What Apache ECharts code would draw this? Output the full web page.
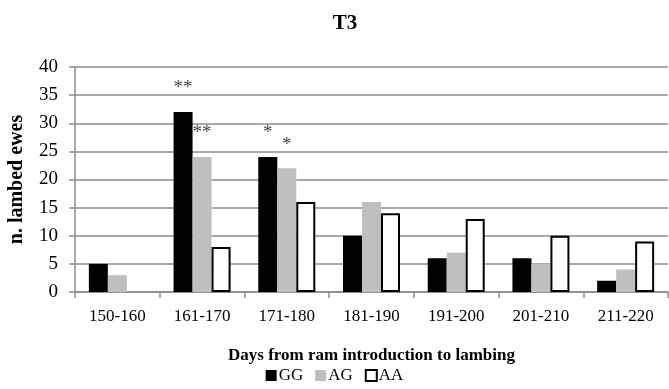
<!DOCTYPE html>
<html>
<head>
<meta charset="utf-8">
<script src="https://cdn.jsdelivr.net/npm/echarts@6/dist/echarts.min.js"></script>
<style>
  html, body { margin: 0; padding: 0; background: #fff; }
  #chart { width: 669px; height: 389px; }
</style>
</head>
<body>
<div id="chart"></div>
<script>
const categories = ["150-160", "161-170", "171-180", "181-190", "191-200", "201-210", "211-220"];
const ggValues = [5, 32, 24, 10, 6, 6, 2];
const agValues = [3, 24, 22, 16, 7, 5, 4];
const aaValues = [0, 8, 16, 14, 13, 10, 9];
// significance marks shown above bars
const ggMarks = ["", "**", "*", "", "", "", ""];
const agMarks = ["", "**", "*", "", "", "", ""];

const font = "Liberation Serif";
const chart = echarts.init(document.getElementById("chart"));

function withMarks(values, marks) {
  return values.map((v, i) => ({
    value: v,
    label: { show: marks[i] !== "", formatter: marks[i] }
  }));
}

const markLabel = {
  position: "top",
  distance: 14,
  color: "#444",
  fontFamily: font,
  fontSize: 19
};

chart.setOption({
  animation: false,
  title: {
    text: "T3",
    left: 340,
    top: 8,
    textAlign: "center",
    textStyle: { fontFamily: font, fontWeight: "bold", fontSize: 21, color: "#000" }
  },
  legend: {
    data: ["GG", "AG", "AA"],
    bottom: 0,
    left: "center",
    itemWidth: 11,
    itemHeight: 11,
    itemGap: 12,
    icon: "rect",
    textStyle: { fontFamily: font, fontSize: 17, color: "#000", padding: [0, 0, 0, -3] }
  },
  grid: { left: 75, right: 1, top: 67, bottom: 97, outerBoundsMode: "none" },
  xAxis: {
    type: "category",
    data: categories,
    name: "Days from ram introduction to lambing",
    nameLocation: "middle",
    nameGap: 55,
    nameTextStyle: { fontFamily: font, fontWeight: "bold", fontSize: 17, color: "#000" },
    axisLine: { lineStyle: { color: "#8c8c8c", width: 1.5 } },
    axisTick: { show: true, length: 6, lineStyle: { color: "#8c8c8c", width: 1.5 } },
    axisLabel: { fontFamily: font, fontSize: 17, color: "#000", margin: 16 }
  },
  yAxis: {
    type: "value",
    min: 0,
    max: 40,
    interval: 5,
    name: "n. lambed ewes",
    nameLocation: "middle",
    nameGap: 48,
    nameRotate: 90,
    nameTextStyle: { fontFamily: font, fontWeight: "bold", fontSize: 20, color: "#000" },
    axisLine: { show: true, lineStyle: { color: "#8c8c8c", width: 1.5 } },
    axisTick: { show: true, length: 6, lineStyle: { color: "#8c8c8c", width: 1.5 } },
    axisLabel: { fontFamily: font, fontSize: 19, color: "#000", margin: 17 },
    splitLine: { show: true, lineStyle: { color: "#8c8c8c", width: 1.5 } }
  },
  series: [
    {
      name: "GG",
      type: "bar",
      data: withMarks(ggValues, ggMarks),
      barWidth: 19,
      barGap: "0%",
      itemStyle: { color: "#000" },
      label: markLabel
    },
    {
      name: "AG",
      type: "bar",
      data: withMarks(agValues, agMarks),
      barWidth: 19,
      barGap: "0%",
      itemStyle: { color: "#bfbfbf" },
      label: markLabel
    },
    {
      name: "AA",
      type: "bar",
      data: aaValues.map(v => ({ value: v, itemStyle: { borderWidth: v === 0 ? 0 : 2 } })),
      barWidth: 19,
      barGap: "0%",
      itemStyle: { color: "#fff", borderColor: "#000", borderWidth: 2 }
    }
  ]
});
</script>
</body>
</html>
